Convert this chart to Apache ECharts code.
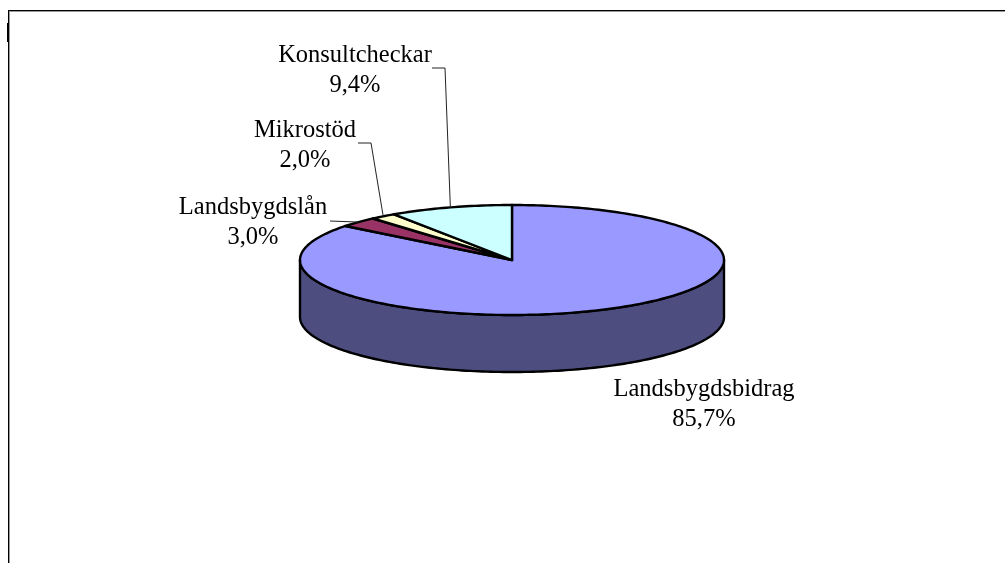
<!DOCTYPE html>
<html><head><meta charset="utf-8">
<style>html,body{margin:0;padding:0;background:#fff}#c{width:1005px;height:563px}</style>
<script src="https://cdn.jsdelivr.net/npm/echarts@6/dist/echarts.min.js"></script>
</head><body><div id="c"></div>
<script>
const categories = ['Landsbygdsbidrag', 'Landsbygdslån', 'Mikrostöd', 'Konsultcheckar'];
const values = [85.7, 3.0, 2.0, 9.4];
const colors = ['#9999ff', '#993366', '#ffffcc', '#ccffff'];
const sideColor = '#4d4d80';
// label layout: centre x, first line centre y
const labelPos = [[704, 390], [253, 208], [305, 131], [355, 56]];
// leader elbow: [start x, start y, elbow x] (null = no leader)
const leaders = [null, [330, 221, 330], [358, 143, 371], [432, 68, 445]];

const CX = 512, CY = 260, RX = 212, RY = 55, DEPTH = 57;
const FONT = '"Liberation Serif", serif', FS = 24.5, LH = 30;
const total = values.reduce((a, b) => a + b, 0);
const pt = (t, dy) => [CX + RX * Math.sin(t), CY + (dy || 0) - RY * Math.cos(t)];
const startAngle = i => values.slice(0, i).reduce((a, b) => a + b, 0) / total * 2 * Math.PI;
function arc(a, b, dy) {
  const n = Math.max(2, Math.ceil((b - a) / 0.02)), out = [];
  for (let k = 0; k <= n; k++) out.push(pt(a + (b - a) * k / n, dy));
  return out;
}
const stroke = { stroke: '#000', lineWidth: 2.4, lineJoin: 'round' };
function renderItem(params, api) {
  const i = params.dataIndex, a = startAngle(i), b = startAngle(i + 1), kids = [];
  // visible side wall: the part of the arc in the front half of the ellipse
  const fa = Math.max(a, Math.PI / 2), fb = Math.min(b, Math.PI * 1.5);
  if (fb > fa) {
    kids.push({ type: 'polygon', z2: 1,
      shape: { points: arc(fa, fb, 0).concat(arc(fa, fb, DEPTH).reverse()) },
      style: Object.assign({ fill: sideColor }, stroke) });
  }
  kids.push({ type: 'polygon', z2: 2,
    shape: { points: [[CX, CY]].concat(arc(a, b, 0)) },
    style: Object.assign({ fill: colors[i] }, stroke) });
  const lp = labelPos[i], val = api.value(0);
  [categories[i], val.toFixed(1).replace('.', ',') + '%'].forEach((t, k) => {
    kids.push({ type: 'text', z2: 5,
      style: { text: t, x: lp[0], y: lp[1] + k * LH, align: 'center', verticalAlign: 'middle',
               fill: '#000', font: FS + 'px ' + FONT } });
  });
  const l = leaders[i];
  if (l) {
    const m = pt((a + b) / 2);
    kids.push({ type: 'polyline', z2: 4,
      shape: { points: [[l[0], l[1]], [l[2], l[1]], m] },
      style: { stroke: '#222', lineWidth: 1, fill: null } });
  }
  return { type: 'group', children: kids };
}
const chart = echarts.init(document.getElementById('c'), null, { renderer: 'canvas' });
chart.setOption({
  animation: false,
  backgroundColor: '#fff',
  graphic: [
    { type: 'rect', shape: { x: 8, y: 10, width: 997, height: 1 }, style: { fill: '#000' } },
    { type: 'rect', shape: { x: 8, y: 11, width: 997, height: 1 }, style: { fill: '#999' } },
    { type: 'rect', shape: { x: 8, y: 10, width: 1, height: 553 }, style: { fill: '#000' } },
    { type: 'rect', shape: { x: 9, y: 12, width: 1, height: 551 }, style: { fill: '#999' } },
    { type: 'rect', shape: { x: 7, y: 23, width: 1, height: 19 }, style: { fill: '#000' } }
  ],
  series: [{
    type: 'custom', coordinateSystem: 'none', renderItem,
    data: values.map((v, i) => ({ name: categories[i], value: [v] }))
  }]
});
</script></body></html>
